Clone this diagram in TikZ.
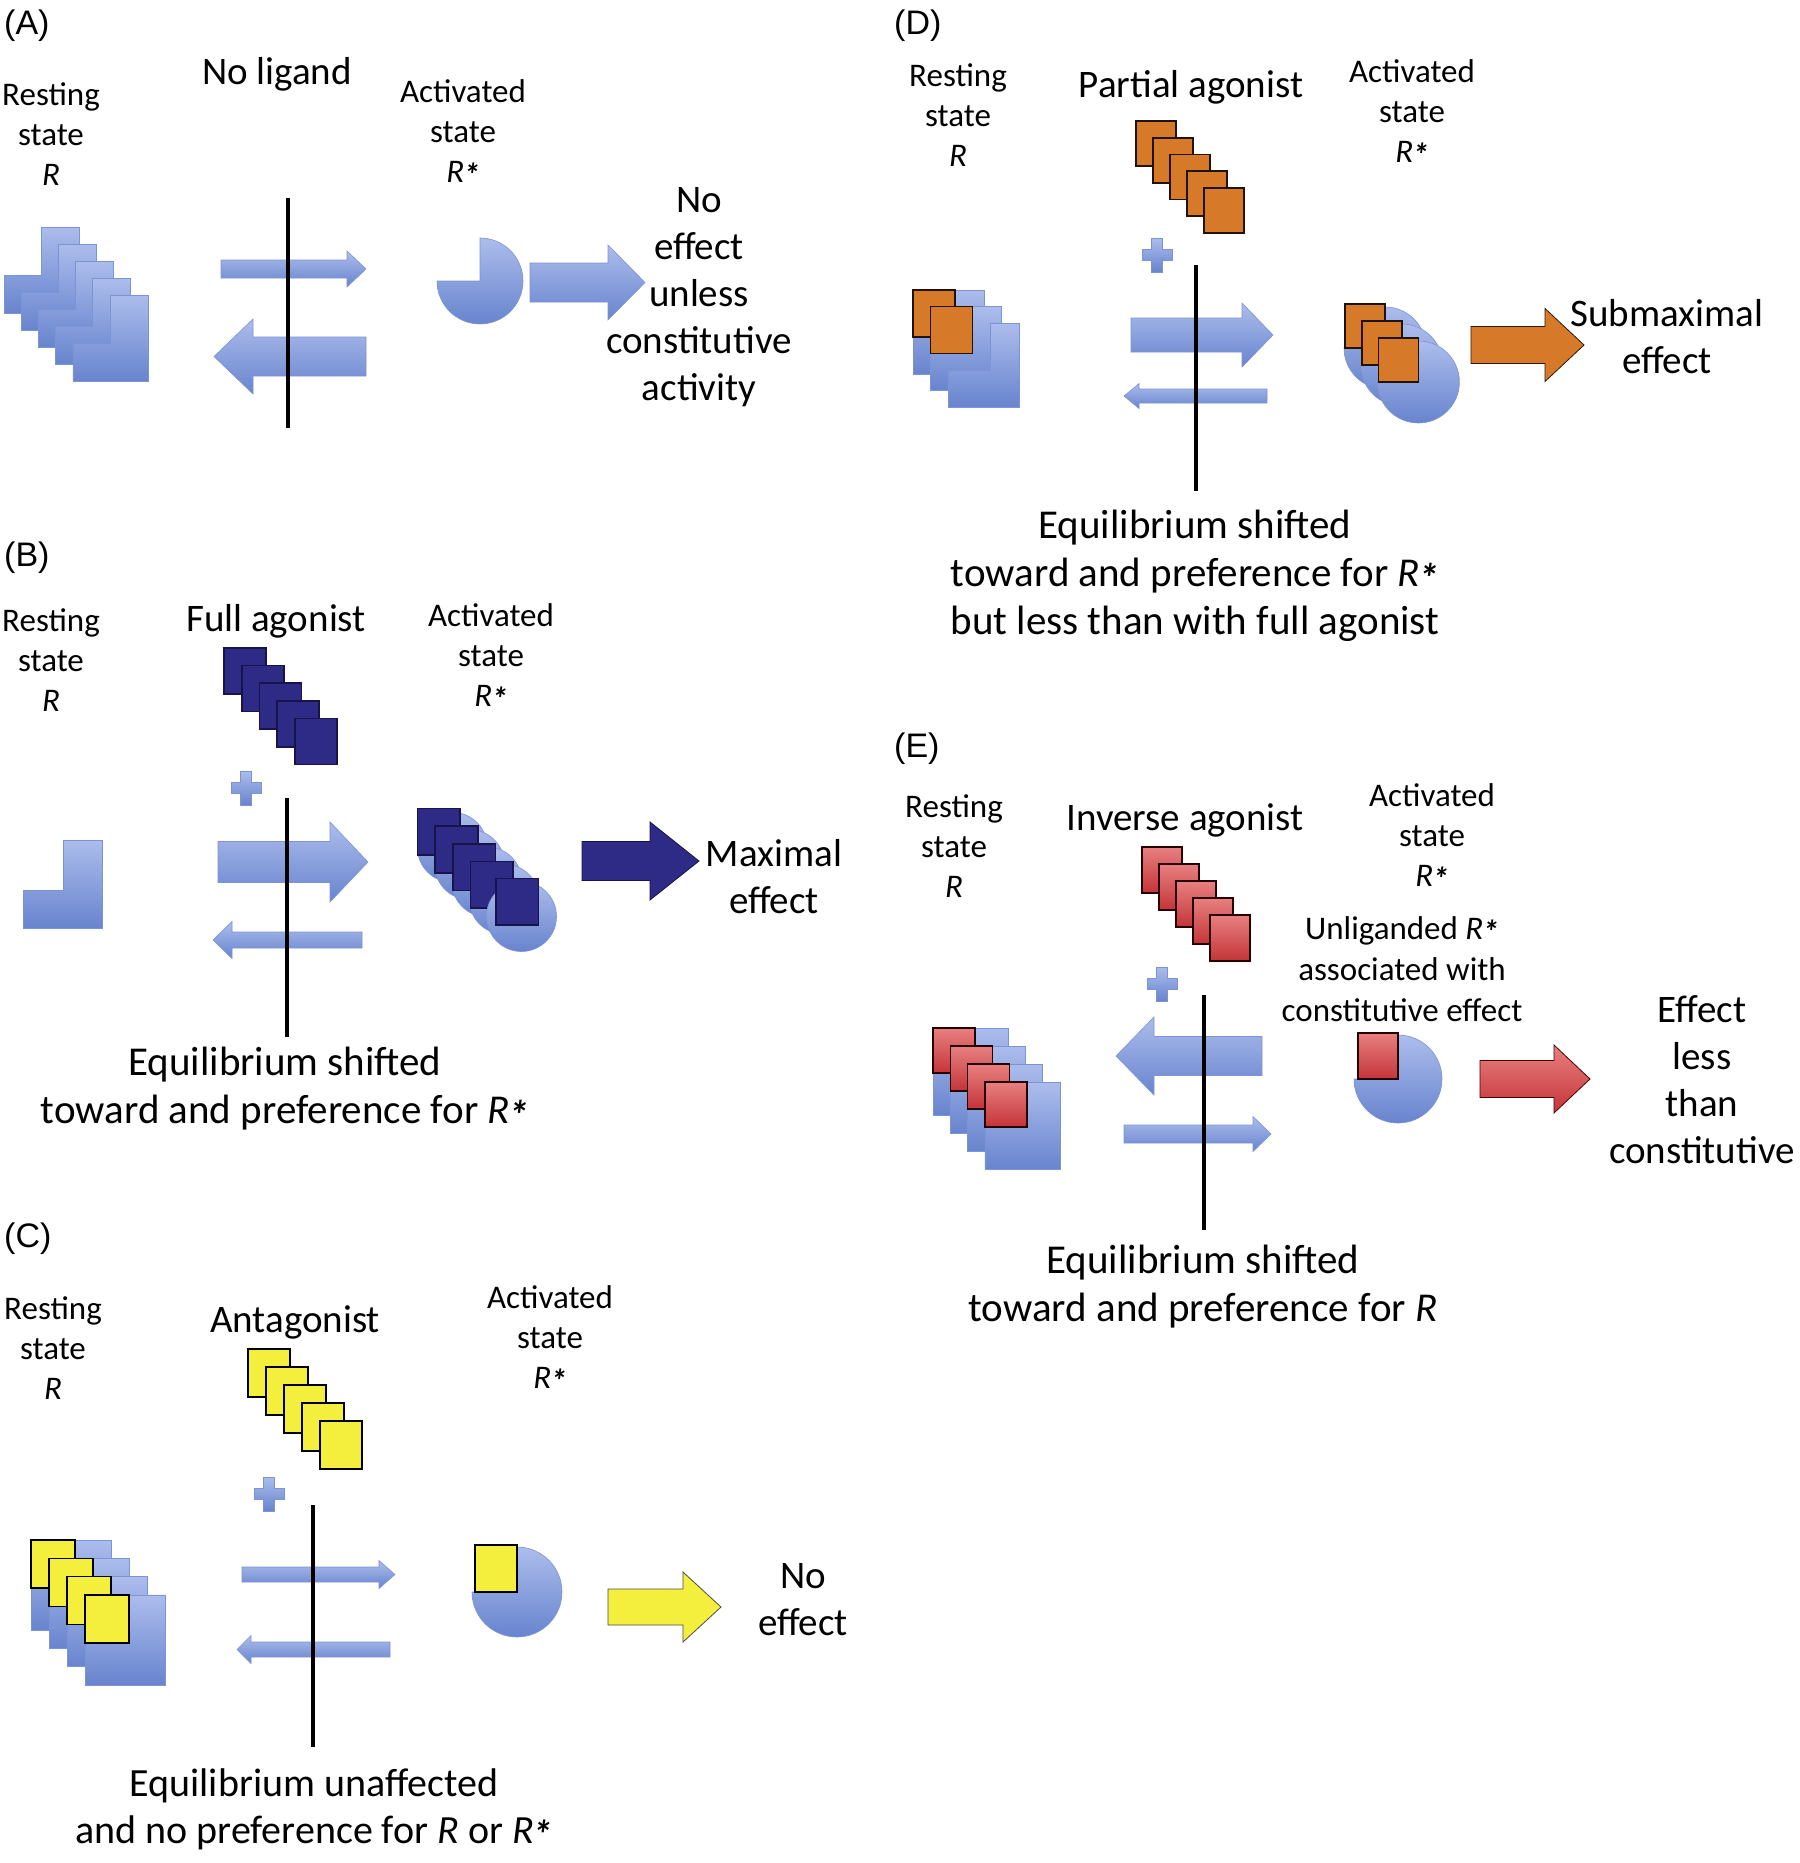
\documentclass[tikz,border=0pt]{standalone}
\usepackage{fontspec}
\setmainfont{Carlito}
\newfontfamily\arialf{Liberation Sans}
\definecolor{bltop}{RGB}{172,189,236}
\definecolor{blbot}{RGB}{104,132,206}
\definecolor{bledge}{RGB}{125,148,212}
\definecolor{navy}{RGB}{46,43,135}
\definecolor{navyedge}{RGB}{22,20,75}
\definecolor{orng}{RGB}{214,122,42}
\definecolor{yel}{RGB}{244,238,60}
\definecolor{redtop}{RGB}{232,128,128}
\definecolor{redbot}{RGB}{196,52,56}
\newcommand\Rst{\textit{R\kern-0.03em\raisebox{-0.14em}{\bfseries *}}}
\tikzset{
 bl/.style={top color=bltop, bottom color=blbot, draw=bledge, line width=0.6pt},
 navysq/.style={fill=navy, draw=navyedge, line width=1.6pt},
 orsq/.style={fill=orng, draw=black!85!orng, line width=1.6pt},
 yesq/.style={fill=yel, draw=black, line width=1.6pt},
 resq/.style={top color=redtop, bottom color=redbot, draw=black!85!red, line width=1.6pt},
 navyarr/.style={fill=navy, draw=navyedge, line width=0.8pt},
 orarr/.style={fill=orng, draw=black!80!orng, line width=0.8pt},
 yearr/.style={fill=yel, draw=black!70, line width=0.8pt},
 rearr/.style={top color=redtop, bottom color=redbot, draw=black!70!red, line width=0.8pt},
 lbl/.style={font=\fontsize{33}{40}\selectfont, align=center, inner sep=0pt},
 hd/.style={font=\fontsize{39}{47}\selectfont, align=center, inner sep=0pt},
 captxt/.style={font=\fontsize{41}{48}\selectfont, align=center, inner sep=0pt},
 pl/.style={font=\arialf\fontsize{34}{40}\selectfont, anchor=west, inner sep=0pt},
 vline/.style={line width=4pt, black},
}
% right arrow: x0, head base, tip, yc, shaft half, head half, style
\newcommand\RArr[7]{\path[#7] (#1,#4-#5) -- (#2,#4-#5) -- (#2,#4-#6) -- (#3,#4) -- (#2,#4+#6) -- (#2,#4+#5) -- (#1,#4+#5) -- cycle;}
% left arrow: tip, head base, end, yc, shaft half, head half, style
\newcommand\LArr[7]{\path[#7] (#1,#4) -- (#2,#4-#6) -- (#2,#4-#5) -- (#3,#4-#5) -- (#3,#4+#5) -- (#2,#4+#5) -- (#2,#4+#6) -- cycle;}
% L shape: x, y, w, h, notch w, notch h
\newcommand\LShp[6]{\path[bl] (#1+#5,#2) -- (#1+#3,#2) -- (#1+#3,#2+#4) -- (#1,#2+#4) -- (#1,#2+#6) -- (#1+#5,#2+#6) -- cycle;}
\newcommand\PacM[3]{\path[bl] (#1,#2) -- (#1,#2-#3) arc[start angle=90, end angle=-180, radius=#3pt] -- cycle;}
\newcommand\PlusS[2]{\path[bl] (#1-5.5,#2-17) -- (#1+5.5,#2-17) -- (#1+5.5,#2-5.5) -- (#1+15,#2-5.5) -- (#1+15,#2+5.5) -- (#1+5.5,#2+5.5) -- (#1+5.5,#2+17) -- (#1-5.5,#2+17) -- (#1-5.5,#2+5.5) -- (#1-15,#2+5.5) -- (#1-15,#2-5.5) -- (#1-5.5,#2-5.5) -- cycle;}
\begin{document}
\begin{tikzpicture}[x=1pt,y=-1pt]
\useasboundingbox (0,0) rectangle (1799,1863);
\fill[white] (0,0) rectangle (1799,1863);

%%%%%%%%%%%% Panel A
\node[pl] (labA) at (4,26) {(A)};
\node[lbl] (restA) at (51,134) {Resting\\state\\\textit{R}};
\node[hd] (ligA) at (277,74) {No ligand};
\node[lbl] (actA) at (463,133) {Activated\\state\\\Rst};
\node[hd] (effA) at (699,297.5) {No\\effect\\unless\\constitutive\\activity};
\foreach \i in {0,...,4} {\LShp{4+17.2*\i}{227+17*\i}{75}{86}{37}{48}}
\RArr{221}{347}{366}{269}{9}{18}{bl}
\LArr{214}{253}{366}{356.5}{19.5}{37.5}{bl}
\draw[vline] (288,198) -- (288,428);
\PacM{480}{281}{43}
\RArr{530}{608}{645}{282.5}{19.5}{37.5}{bl}

%%%%%%%%%%%% Panel B
\node[pl] (labB) at (4,558) {(B)};
\node[lbl] (restB) at (51,660) {Resting\\state\\\textit{R}};
\node[hd] (ligB) at (276,621) {Full agonist};
\node[lbl] (actB) at (491,657) {Activated\\state\\\Rst};
\node[hd] (effB) at (774,877) {Maximal\\effect};
\node[captxt] (capB) at (285,1089) {Equilibrium shifted\\toward and preference for \Rst};
\LShp{23}{840}{79}{88}{40}{50}
\foreach \i in {0,...,4} {\path[navysq] ({224+17.7*\i},{648+17.6*\i}) rectangle ++(42,46);}
\PlusS{246}{788}
\RArr{218}{330}{368}{862}{20.5}{40}{bl}
\LArr{213}{232}{362}{940}{8}{18.5}{bl}
\draw[vline] (287,798) -- (287,1037);
\foreach \i in {0,...,3} {
  \path[bl] ({452.3+17.3*\i},{847.3+17.3*\i}) circle[radius=35pt];
  \path[navysq] ({417.3+17.7*\i},{808.3+17.7*\i}) rectangle ++(42.7,46.7);
}
\path[bl] (521.5,916.5) circle[radius=35pt];
\path[navysq] (495.7,878.3) rectangle ++(42.7,46.7);
\RArr{582}{650}{699}{861}{19.5}{39}{navyarr}

%%%%%%%%%%%% Panel C
\node[pl] (labC) at (4,1239) {(C)};
\node[lbl] (restC) at (53,1348) {Resting\\state\\\textit{R}};
\node[hd] (ligC) at (295,1322) {Antagonist};
\node[lbl] (actC) at (550,1339) {Activated\\state\\\Rst};
\node[hd] (effC) at (803,1600) {No\\effect};
\node[captxt, font=\fontsize{40}{47}\selectfont] (capC) at (314,1809) {Equilibrium unaffected\\and no preference for \textit{R} or \Rst};
\foreach \i in {0,...,3} {
  \LShp{31+18*\i}{1540+18.3*\i}{80}{90}{44}{48}
  \path[yesq] ({31+18*\i},{1540+18.3*\i}) rectangle ++(44,48);
}
\foreach \i in {0,...,4} {\path[yesq] ({248+18*\i},{1349+18*\i}) rectangle ++(42,48);}
\PlusS{269}{1494}
\RArr{242}{379}{395}{1574.5}{7.5}{14}{bl}
\LArr{237}{251}{390}{1649.5}{7.5}{14}{bl}
\draw[vline] (313,1505) -- (313,1747);
\PacM{517}{1592}{45}
\path[yesq] (475,1545) rectangle ++(42,47);
\RArr{608}{683}{721}{1607}{18}{35}{yearr}

%%%%%%%%%%%% Panel D
\node[pl] (labD) at (894,26) {(D)};
\node[lbl] (restD) at (958,115) {Resting\\state\\\textit{R}};
\node[hd] (ligD) at (1191,87) {Partial agonist};
\node[lbl] (actD) at (1412,113) {Activated\\state\\\Rst};
\node[hd] (effD) at (1667,337) {Submaximal\\effect};
\node[captxt] (capD) at (1195,576) {Equilibrium shifted\\toward and preference for \Rst\\but less than with full agonist};
\foreach \i in {0,...,2} {\LShp{913+17.5*\i}{290+16.5*\i}{71}{84}{42}{47}}
\path[orsq] (913,290) rectangle ++(42,47);
\path[orsq] (930.5,306.5) rectangle ++(42,47);
\foreach \i in {0,...,4} {\path[orsq] ({1136+17*\i},{121+16.7*\i}) rectangle ++(40,45);}
\PlusS{1157}{255}
\RArr{1131}{1242}{1273}{335}{17}{32}{bl}
\LArr{1124}{1139}{1267}{396}{7}{12.5}{bl}
\draw[vline] (1196,265) -- (1196,491);
\foreach \i in {0,...,2} {
  \PacM{1385+16.7*\i}{348+17*\i}{41}
  \path[orsq] ({1345+16.7*\i},{304+17*\i}) rectangle ++(40,44);
}
\RArr{1471}{1545}{1584}{345}{18.5}{36.5}{orarr}

%%%%%%%%%%%% Panel E
\node[pl] (labE) at (894,749) {(E)};
\node[lbl] (restE) at (954,846) {Resting\\state\\\textit{R}};
\node[hd] (ligE) at (1185,820) {Inverse agonist};
\node[lbl] (actE) at (1432,837) {Activated\\state\\\Rst};
\node[lbl, font=\fontsize{33}{41}\selectfont] (unlE) at (1402,969) {Unliganded \Rst\\associated with\\constitutive effect};
\node[hd] (effE) at (1702,1080) {Effect\\less\\than\\constitutive};
\node[captxt] (capE) at (1203,1287) {Equilibrium shifted\\toward and preference for \textit{R}};
\foreach \i in {0,...,3} {
  \LShp{933+17.3*\i}{1028+18*\i}{75}{87}{42}{45}
  \path[resq] ({933+17.3*\i},{1028+18*\i}) rectangle ++(42,45);
}
\foreach \i in {0,...,4} {\path[resq] ({1142+17*\i},{847+17*\i}) rectangle ++(40,46);}
\PlusS{1162}{984}
\LArr{1116}{1154}{1262}{1056}{19.5}{39}{bl}
\RArr{1124}{1253}{1271}{1134}{9}{17.5}{bl}
\draw[vline] (1204,995) -- (1204,1230);
\PacM{1398}{1079}{44}
\path[resq] (1358,1033) rectangle ++(40,46);
\RArr{1480}{1554}{1590}{1079}{18.5}{34}{rearr}
\end{tikzpicture}
\end{document}
